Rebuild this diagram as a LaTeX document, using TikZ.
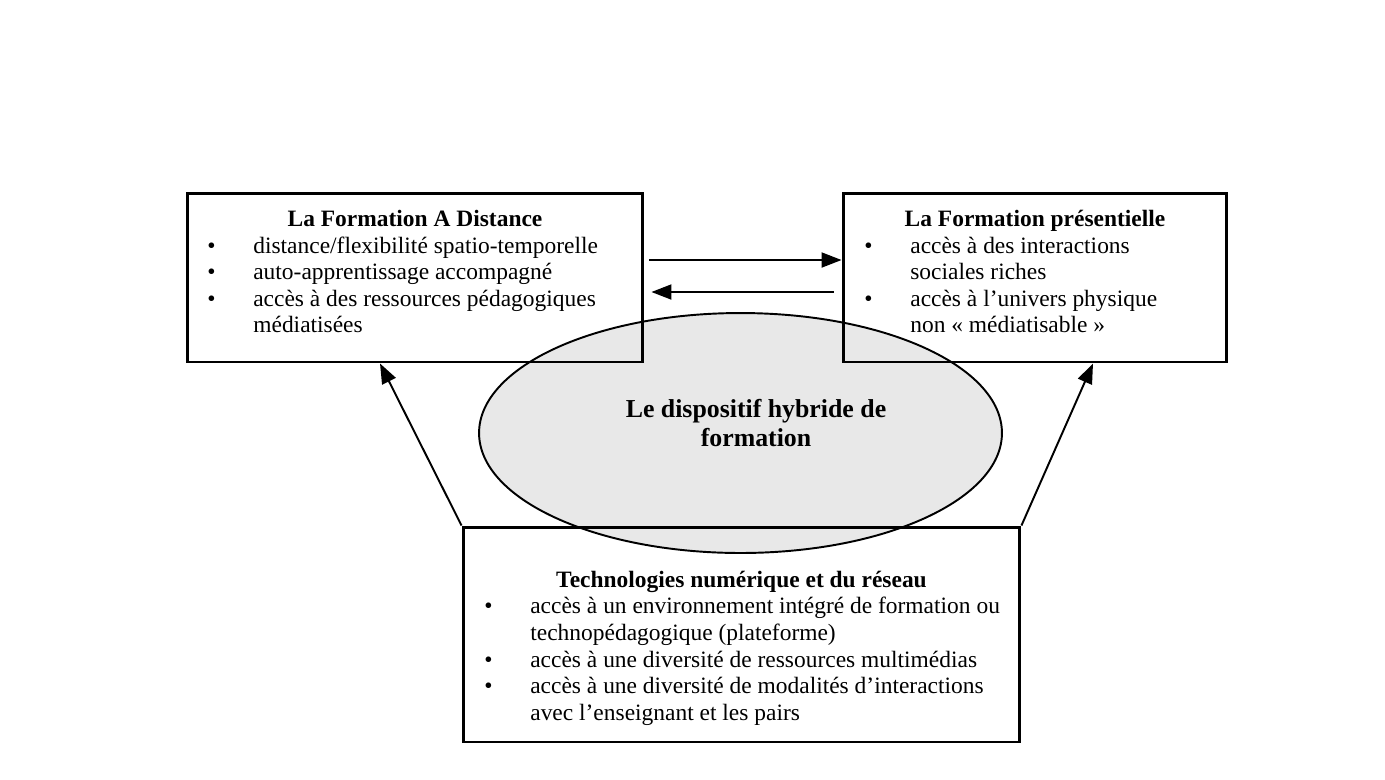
\documentclass[tikz,border=0pt]{standalone}
\usepackage{fontspec}
\setmainfont{Liberation Serif}
\usetikzlibrary{shapes.geometric, arrows.meta, positioning}

\tikzset{
  boite/.style={draw, rectangle, line width=1.7pt, inner sep=0pt},
  fleche/.style={line width=1.1pt, -{Triangle[length=0.4cm,width=0.3cm]}},
  titre/.style={font=\fontsize{13.35}{15.1}\selectfont\bfseries, anchor=base, inner sep=0pt},
  liste/.style={font=\fontsize{13.35}{15.1}\selectfont, align=left, anchor=north west, inner sep=0pt}
}
\newcommand{\puce}{\makebox[0.92cm][l]{•}}
\newcommand{\suite}{\hspace*{0.92cm}}

\begin{document}
\begin{tikzpicture}[x=0.02cm, y=-0.02cm]
        \useasboundingbox (0,0) rectangle (1385,779);
        %ellisse au fond
            \node[ellipse, draw, line width=1.1pt, fill=black!9, minimum width=10.46cm, minimum height=4.8cm] (hyb) at (740.5,433) {};
            \node[font=\fontsize{14.7}{17}\selectfont\bfseries, align=center, inner sep=0pt] (thyb) at (756,423) {Le dispositif hybride de\\formation};
        %cadres
            \node[boite, minimum width=9.12cm, minimum height=3.38cm] (fad) at (415,277.5) {};
            \node[boite, minimum width=7.68cm, minimum height=3.38cm] (fp) at (1035,277.5) {};
            \node[boite, minimum width=11.14cm, minimum height=4.3cm] (tech) at (741.5,634.5) {};
        %fleches
            \draw[fleche] ([xshift=0.1cm,yshift=0.35cm]fad.east) -- ([yshift=0.35cm]fp.west);
            \draw[fleche] ([xshift=-0.16cm,yshift=-0.29cm]fp.west) -- ([xshift=0.14cm,yshift=-0.29cm]fad.east);
            \draw[fleche] (tech.north west) -- ([xshift=-0.7cm]fad.south);
            \draw[fleche] (tech.north east) -- ([xshift=1.16cm]fp.south);
        %textes
            \node[titre] (tfad) at (415,226.5) {La Formation A Distance};
            \node[liste] (lfad) at (207,234.4) {\strut\puce distance/flexibilité spatio-temporelle\\
                \puce auto-apprentissage accompagné\\
                \puce accès à des ressources pédagogiques\\
                \suite médiatisées};

            \node[titre] (tfp) at (1035,226.5) {La Formation présentielle};
            \node[liste] (lfp) at (864,234.4) {\strut\puce accès à des interactions\\
                \suite sociales riches\\
                \puce accès à l’univers physique\\
                \suite non « médiatisable »};

            \node[titre] (ttech) at (741.5,587) {Technologies numérique et du réseau};
            \node[liste] (ltech) at (484,595) {\strut\puce accès à un environnement intégré de formation ou\\
                \suite technopédagogique (plateforme)\\
                \puce accès à une diversité de ressources multimédias\\
                \puce accès à une diversité de modalités d’interactions\\
                \suite avec l’enseignant et les pairs};
    \end{tikzpicture}
\end{document}
